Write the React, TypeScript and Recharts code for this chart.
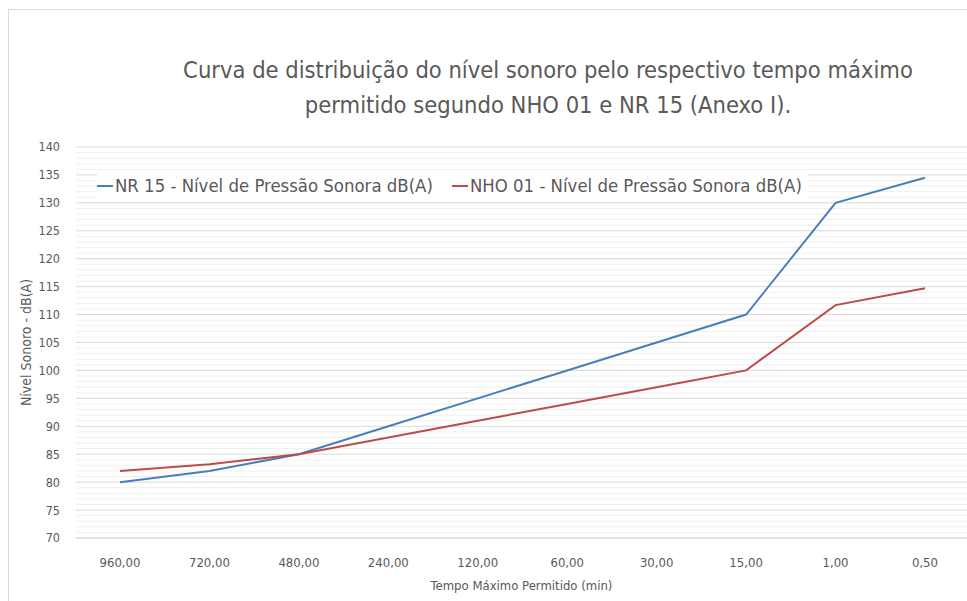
import { CartesianGrid, Legend, Line, LineChart, ReferenceLine, XAxis, YAxis } from "recharts";

const categories = ["960,00", "720,00", "480,00", "240,00", "120,00", "60,00", "30,00", "15,00", "1,00", "0,50"];
const nr15 = [80, 82, 85, 90, 95, 100, 105, 110, 130, 134.5];
const nho01 = [82, 83.2, 85, 88, 91, 94, 97, 100, 111.7, 114.7];
const majorTicks = [70, 75, 80, 85, 90, 95, 100, 105, 110, 115, 120, 125, 130, 135, 140];
// minor gridlines every 1 dB between the major ticks
const minorTicks = Array.from({ length: 71 }, (_, i) => 70 + i).filter((v) => v % 5 !== 0);

const data = categories.map((c, i) => ({ tempo: c, nr15: nr15[i], nho01: nho01[i] }));

const FONT = "'DejaVu Sans Condensed', 'DejaVu Sans', sans-serif";
const GREY = "#595959";

const LegendContent = () => (
  <div style={{ display: "flex", fontFamily: FONT, fontSize: 18.4, color: GREY, whiteSpace: "nowrap", background: "#fff", padding: "3px 6px 3px 0" }}>
    <div style={{ display: "flex", alignItems: "center", width: 355 }}>
      <span style={{ display: "inline-block", width: 16, height: 2, background: "#4a7ebb", marginRight: 2 }} />
      NR 15 - Nível de Pressão Sonora dB(A)
    </div>
    <div style={{ display: "flex", alignItems: "center" }}>
      <span style={{ display: "inline-block", width: 16, height: 2, background: "#be4b48", marginRight: 2 }} />
      NHO 01 - Nível de Pressão Sonora dB(A)
    </div>
  </div>
);

export default function App() {
  return (
    <div style={{ position: "fixed", left: 0, top: 0, width: 967, height: 601, overflow: "hidden", background: "#fff" }}>
      <div style={{ position: "absolute", left: 8, top: 9, width: 980, height: 620, borderLeft: "1px solid #d9d9d9", borderTop: "1px solid #d9d9d9" }} />
      <div style={{ position: "absolute", left: 0, top: 53, width: 1096, textAlign: "center", fontFamily: FONT, fontSize: 23.5, lineHeight: "35px", color: GREY }}>
        Curva de distribuição do nível sonoro pelo respectivo tempo máximo
        <br />
        permitido segundo NHO 01 e NR 15 (Anexo I).
      </div>
      <LineChart width={967} height={601} data={data} margin={{ top: 147, right: 0, bottom: 0, left: 0 }}>
        <CartesianGrid yAxisId="main" vertical={false} stroke="#d9d9d9" />
        <XAxis
          dataKey="tempo"
          padding={{ left: 44, right: 42 }}
          height={63}
          axisLine={{ stroke: "#d9d9d9" }}
          tickLine={false}
          tickMargin={14}
          tick={{ fill: GREY, fontSize: 13, fontFamily: FONT }}
          interval={0}
          label={{ value: "Tempo Máximo Permitido (min)", position: "insideBottom", offset: 11, fill: GREY, fontSize: 13, fontFamily: FONT }}
        />
        <YAxis
          yAxisId="main"
          domain={[70, 140]}
          ticks={majorTicks}
          width={76}
          axisLine={false}
          tickLine={false}
          tickSize={0}
          tickMargin={16}
          tick={{ fill: GREY, fontSize: 12.5, fontFamily: FONT }}
          label={{ value: "Nível Sonoro - dB(A)", angle: -90, position: "insideLeft", offset: 26, fill: GREY, fontSize: 14, fontFamily: FONT, style: { textAnchor: "middle" } }}
        />
        {minorTicks.map((v) => (
          <ReferenceLine key={v} yAxisId="main" y={v} stroke="#efefef" strokeWidth={1} />
        ))}
        <Legend verticalAlign="middle" content={LegendContent} wrapperStyle={{ position: "absolute", left: 97, top: 172, width: "auto" }} />
        <Line yAxisId="main" type="linear" dataKey="nr15" name="NR 15 - Nível de Pressão Sonora dB(A)" stroke="#4a7ebb" strokeWidth={2} dot={false} isAnimationActive={false} />
        <Line yAxisId="main" type="linear" dataKey="nho01" name="NHO 01 - Nível de Pressão Sonora dB(A)" stroke="#be4b48" strokeWidth={2} dot={false} isAnimationActive={false} />
      </LineChart>
    </div>
  );
}
